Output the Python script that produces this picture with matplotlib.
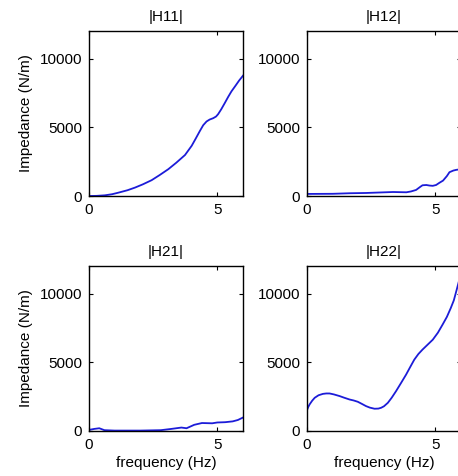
import matplotlib
matplotlib.use("Agg")
import matplotlib.pyplot as plt

plt.rcParams['font.family'] = ['Liberation Sans', 'DejaVu Sans']

# data (frequency in Hz, impedance in N/m)
f11 = [0, 0.3, 0.62, 0.9, 1.14, 1.5, 1.79, 2.1, 2.44, 2.75, 3.09, 3.4, 3.74, 4.0, 4.15,
       4.32, 4.45, 4.58, 4.7, 4.84, 4.95, 5.03, 5.15, 5.29, 5.42, 5.55, 5.7, 5.85, 6.0]
h11 = [0, 10, 50, 130, 240, 420, 610, 850, 1150, 1520, 1950, 2420, 2980, 3650, 4150,
       4730, 5150, 5420, 5560, 5660, 5780, 5950, 6300, 6760, 7200, 7610, 8000, 8400, 8750]

f12 = [0, 1.0, 1.66, 2.3, 2.9, 3.35, 3.87, 4.05, 4.25, 4.4, 4.5, 4.65, 4.77, 4.9, 5.03,
       5.15, 5.3, 5.45, 5.55, 5.7, 5.81, 6.0]
h12 = [150, 160, 200, 220, 260, 290, 270, 330, 440, 650, 780, 800, 760, 740, 800,
       950, 1120, 1450, 1730, 1850, 1900, 1950]

f21 = [0, 0.2, 0.4, 0.6, 1.0, 2.0, 2.8, 3.2, 3.6, 3.8, 4.1, 4.4, 4.8, 5.0, 5.3, 5.6, 5.8, 6.0]
h21 = [80, 150, 200, 60, 30, 30, 60, 150, 250, 200, 450, 580, 560, 620, 640, 700, 800, 980]

f22 = [0, 0.05, 0.1, 0.2, 0.3, 0.45, 0.62, 0.75, 0.88, 1.05, 1.27, 1.45, 1.66, 1.82, 1.98,
       2.15, 2.3, 2.45, 2.63, 2.78, 2.89, 3.0, 3.15, 3.3, 3.47, 3.66, 3.86, 4.02, 4.18,
       4.34, 4.5, 4.7, 4.9, 5.1, 5.28, 5.45, 5.6, 5.72, 5.83, 5.92, 6.0]
h22 = [1520, 1750, 1930, 2200, 2415, 2600, 2700, 2730, 2730, 2660, 2540, 2420, 2290, 2220, 2125,
       1960, 1810, 1700, 1620, 1630, 1690, 1800, 2050, 2420, 2900, 3480, 4100, 4650, 5190,
       5600, 5920, 6280, 6640, 7150, 7730, 8300, 8935, 9500, 10260, 10900, 11600]

titles = ['|H11|', '|H12|', '|H21|', '|H22|']
freqs = [f11, f12, f21, f22]
vals = [h11, h12, h21, h22]

W, H = 458, 476
fig = plt.figure(figsize=(W / 100, H / 100), dpi=100)

# axes boxes in pixels: left, top, width, height (right column runs past the edge)
boxes = [(89, 31, 154, 165), (307, 31, 154, 165),
         (89, 266, 154, 165), (307, 266, 154, 165)]

for i in range(4):
    l, t, w, h = boxes[i]
    ax = fig.add_axes([l / W, 1 - (t + h) / H, w / W, h / H])
    ax.plot(freqs[i], vals[i], color='#1c1cd8', linewidth=1.3)
    ax.set_xlim(0, 6)
    ax.set_ylim(0, 12000)
    ax.set_xticks([0, 5])
    ax.set_yticks([0, 5000, 10000])
    ax.tick_params(direction='in', top=True, right=True, length=3, labelsize=11, pad=5)
    ax.set_title(titles[i], fontsize=11, pad=7)
    for s in ax.spines.values():
        s.set_linewidth(1.0)
    if i % 2 == 0:
        ax.set_ylabel('Impedance (N/m)', fontsize=11, labelpad=5)
    if i >= 2:
        ax.set_xlabel('frequency (Hz)', fontsize=11, labelpad=3)

fig.savefig('out.png', dpi=100)
